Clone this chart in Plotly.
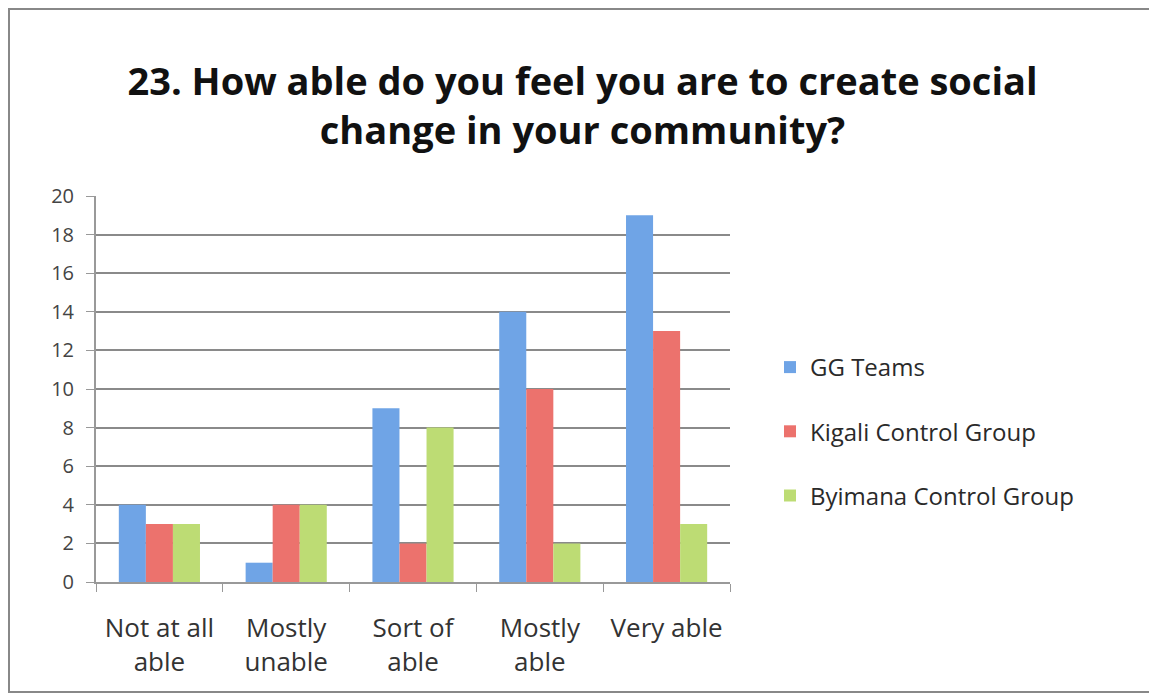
import plotly.graph_objects as go

categories = ["Not at all<br>able", "Mostly<br>unable", "Sort of<br>able", "Mostly<br>able", "Very able"]
gg_teams = [4, 1, 9, 14, 19]
kigali = [3, 4, 2, 10, 13]
byimana = [3, 4, 8, 2, 3]
series_names = ["GG Teams", "Kigali Control Group", "Byimana Control Group"]
colors = ["#6fa4e6", "#ec726d", "#bddc74"]

OFF = 8  # page body margin
W, H = 1157 - OFF, 694 - OFF
# target page coordinates of plot area
PL, PR, PT, PB = 96, 730, 196, 582
L, R, T, B = PL - OFF, 1157 - PR, PT - OFF, 694 - PB
pw, ph = PR - PL, PB - PT

def px_x(x):
    return (x - PL) / pw

def px_y(y):
    return (PB - y) / ph

fig = go.Figure()
for i, (name, vals) in enumerate(zip(series_names, [gg_teams, kigali, byimana])):
    fig.add_trace(go.Bar(
        x=categories, y=vals, name=name, legendgroup=name,
        marker=dict(color=colors[i], line=dict(width=0)),
    ))

font_family = "Open Sans, sans-serif"
fig.update_layout(
    width=W, height=H,
    margin=dict(l=L, r=R, t=T, b=B),
    paper_bgcolor="white", plot_bgcolor="white",
    barmode="group", bargap=0.36, bargroupgap=0,
    title=dict(
        text="<b>23. How able do you feel you are to create social<br>change in your community?</b>",
        x=0.5, xref="container", xanchor="center",
        y=1 - (95 - OFF) / H, yanchor="middle",
        font=dict(family=font_family, size=38, color="#111"),
    ),
    font=dict(family=font_family, color="#333"),
    legend=dict(
        x=px_x(770), y=px_y(345), xanchor="left", yanchor="top",
        font=dict(size=24, color="#2a2a2a"), traceorder="grouped", tracegroupgap=30,
        itemwidth=30, bgcolor="rgba(0,0,0,0)",
    ),
    showlegend=True,
    xaxis=dict(
        showgrid=False, showline=True, linecolor="#999", linewidth=2,
        ticks="outside", tickson="boundaries", ticklen=8, tickcolor="#999",
        tickfont=dict(size=26, color="#333"), ticklabelstandoff=22,
    ),
    yaxis=dict(
        range=[0, 20], dtick=2, showgrid=True, gridcolor="#8a8a8a", gridwidth=2,
        showline=True, linecolor="#999", linewidth=2, ticks="outside", ticklen=8,
        tickcolor="#999", tickfont=dict(size=20, color="#444"), zeroline=False,
        ticklabelstandoff=8,
    ),
    shapes=[dict(
        type="rect", xref="paper", yref="paper",
        x0=px_x(OFF + 1), x1=px_x(1152),
        y0=px_y(692), y1=px_y(OFF + 1),
        line=dict(color="#888", width=2), fillcolor="rgba(0,0,0,0)", layer="below",
    )],
)
fig.write_html("out.html")
